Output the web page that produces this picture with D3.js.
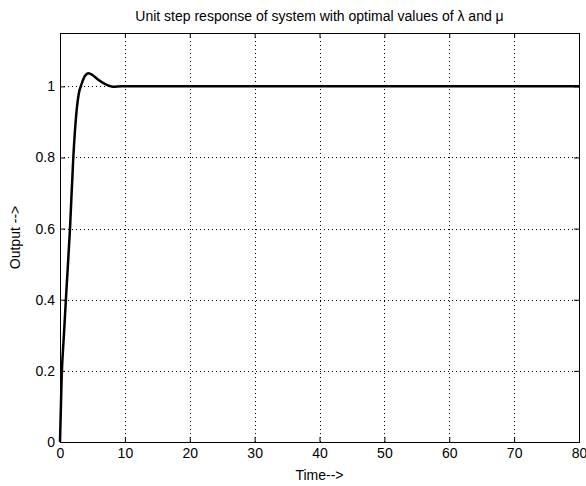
<!DOCTYPE html>
<html><head><meta charset="utf-8">
<script src="https://cdn.jsdelivr.net/npm/d3@7"></script>
<style>body{margin:0;background:#fff}svg{display:block}text{font-family:"Liberation Sans",Arial,sans-serif}</style>
</head><body><svg id="c" width="586" height="486"></svg>
<script>
const times = [0,0.25,0.6,1.0,1.54,2.05,2.5,2.9,3.3,3.8,4.4,5.0,5.8,6.9,8.2,9.5,20,30,40,50,60,70,80];
const values = [0,0.18,0.3,0.43,0.6,0.8,0.92,0.98,1.005,1.028,1.037,1.032,1.02,1.007,0.999,1.0,1.0,1.0,1.0,1.0,1.0,1.0,1.0];
const xTicks = [0,10,20,30,40,50,60,70,80];
const yTicks = [0,0.2,0.4,0.6,0.8,1];
const title = "Unit step response of system with optimal values of \u03bb and \u03bc";
const xLabel = "Time-->";
const yLabel = "Output -->";

const svg = d3.select("#c");
const L=60,R=579,T=33,B=442;
const FS=14;
const x = d3.scaleLinear().domain([0,80]).range([L,R]);
const y = d3.scaleLinear().domain([0,1.15]).range([B,T]);

const g = svg.append("g");
g.selectAll(".vx").data(xTicks.slice(1,-1)).enter().append("line")
 .attr("x1",d=>Math.round(x(d))+0.5).attr("x2",d=>Math.round(x(d))+0.5).attr("y1",T).attr("y2",B)
 .attr("stroke","#000").attr("stroke-dasharray","1,3");
g.selectAll(".hy").data(yTicks.slice(1)).enter().append("line")
 .attr("y1",d=>Math.round(y(d))+0.5).attr("y2",d=>Math.round(y(d))+0.5).attr("x1",L).attr("x2",R)
 .attr("stroke","#000").attr("stroke-dasharray","1,3");

const xa = svg.append("g").attr("transform",`translate(0,${B})`)
 .call(d3.axisBottom(x).tickValues(xTicks).tickSizeInner(-5).tickSizeOuter(0).tickPadding(6));
const xt = svg.append("g").attr("transform",`translate(0,${T})`)
 .call(d3.axisTop(x).tickValues(xTicks).tickSizeInner(-5).tickSizeOuter(0).tickFormat(""));
const ya = svg.append("g").attr("transform",`translate(${L},0)`)
 .call(d3.axisLeft(y).tickValues(yTicks).tickSizeInner(-5).tickSizeOuter(0).tickPadding(5).tickFormat(d3.format("~g")));
const yr = svg.append("g").attr("transform",`translate(${R},0)`)
 .call(d3.axisRight(y).tickValues(yTicks).tickSizeInner(-5).tickSizeOuter(0).tickFormat(""));
[xa,xt,ya,yr].forEach(a=>{a.selectAll("path").attr("stroke","#000");a.selectAll("line").attr("stroke","#000");
 a.selectAll("text").attr("font-size",FS).attr("fill","#000").attr("font-family","'Liberation Sans',Arial,sans-serif");});
svg.append("rect").attr("x",L+0.5).attr("y",T+0.5).attr("width",R-L).attr("height",B-T).attr("fill","none").attr("stroke","#000");

svg.append("path").datum(times.map((t,i)=>[t,values[i]]))
 .attr("d",d3.line().x(d=>x(d[0])).y(d=>y(d[1])).curve(d3.curveMonotoneX))
 .attr("fill","none").attr("stroke","#000").attr("stroke-width",2.5);

svg.append("text").attr("x",(L+R)/2).attr("y",21).attr("text-anchor","middle").attr("font-size",FS).text(title);
svg.append("text").attr("x",(L+R)/2).attr("y",480).attr("text-anchor","middle").attr("font-size",FS).text(xLabel);
svg.append("text").attr("transform",`translate(20,${(T+B)/2}) rotate(-90)`).attr("text-anchor","middle").attr("font-size",FS).text(yLabel);
</script></body></html>
